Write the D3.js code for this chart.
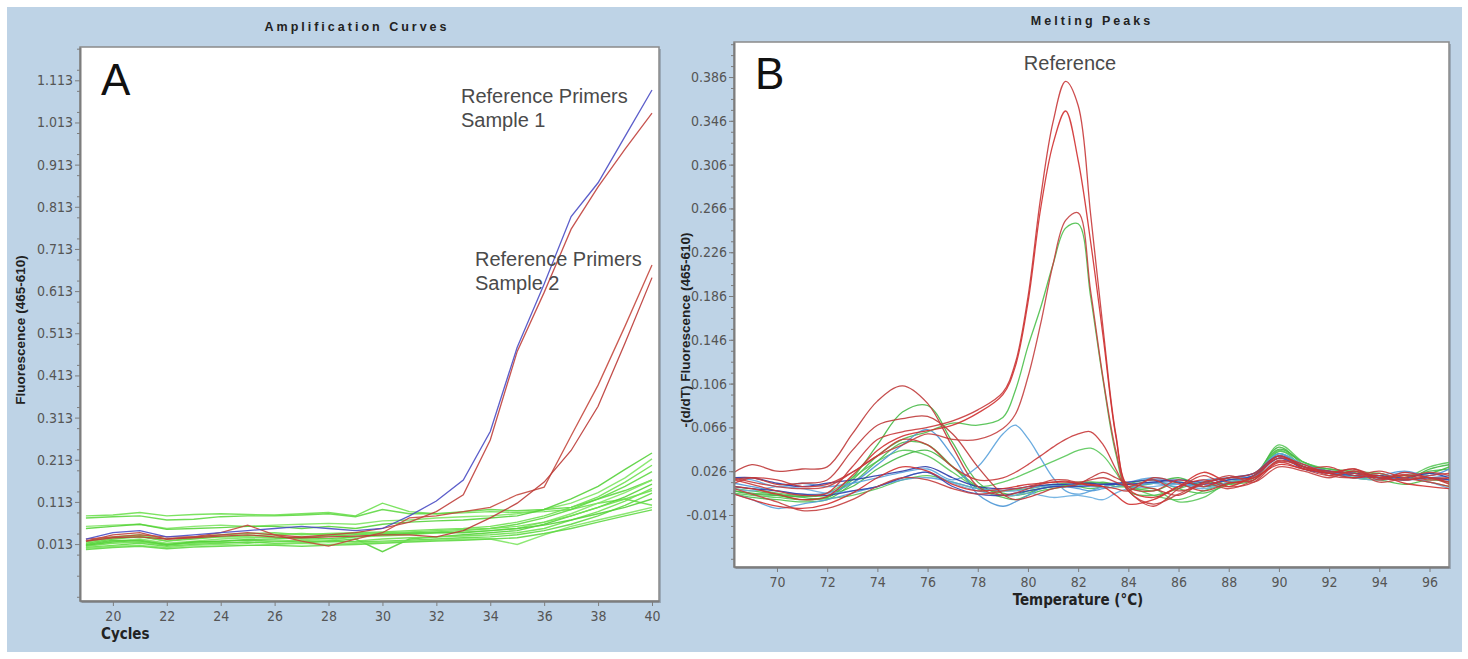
<!DOCTYPE html>
<html>
<head>
<meta charset="utf-8">
<title>Amplification Curves / Melting Peaks</title>
<style>
body { margin: 0; background: #fff; }
.tick text { font-family: "Liberation Sans Narrow", "DejaVu Sans Condensed", sans-serif; font-size: 14px; fill: #555; }
.tick line, .domain { stroke: #7d7d7d; }
.title { font-family: "Liberation Sans", Arial, sans-serif; font-weight: bold; font-size: 12.5px; letter-spacing: 3px; fill: #222; }
.axlabel { font-family: "Liberation Sans Narrow", "DejaVu Sans Condensed", sans-serif; font-weight: bold; font-size: 15px; fill: #222; }
.ylabel { font-family: "Liberation Sans", Arial, sans-serif; font-weight: bold; font-size: 13.5px; fill: #222; }
.note { font-family: "Liberation Sans", Arial, sans-serif; font-size: 20px; fill: #4a4a4a; }
.letter { font-family: "Liberation Sans", Arial, sans-serif; font-size: 44px; fill: #111; }
</style>
</head>
<body>
<script src="https://cdn.jsdelivr.net/npm/d3@7"></script>
<script>
// ---- amplification data (fluorescence per cycle) ----
var cycles = d3.range(19, 41);
var ampXTicks = [20, 22, 24, 26, 28, 30, 32, 34, 36, 38, 40];
var ampYTicks = [0.013, 0.113, 0.213, 0.313, 0.413, 0.513, 0.613, 0.713, 0.813, 0.913, 1.013, 1.113];

var ampBlue = [0.025, 0.04, 0.045, 0.03, 0.035, 0.04, 0.045, 0.05, 0.055, 0.05, 0.045, 0.05, 0.08, 0.115, 0.165, 0.28, 0.48, 0.63, 0.79, 0.87, 0.98, 1.09];
var ampRed = [
  [0.02, 0.035, 0.04, 0.025, 0.03, 0.035, 0.04, 0.035, 0.03, 0.035, 0.04, 0.05, 0.065, 0.09, 0.13, 0.26, 0.47, 0.61, 0.76, 0.86, 0.95, 1.035],
  [0.025, 0.03, 0.035, 0.03, 0.03, 0.04, 0.058, 0.035, 0.02, 0.008, 0.025, 0.04, 0.075, 0.08, 0.09, 0.1, 0.13, 0.148, 0.27, 0.39, 0.53, 0.675],
  [0.02, 0.028, 0.03, 0.025, 0.028, 0.032, 0.035, 0.03, 0.028, 0.03, 0.032, 0.035, 0.035, 0.03, 0.045, 0.075, 0.11, 0.16, 0.235, 0.34, 0.49, 0.645]
];
var ampGreen = [
  [0.08, 0.082, 0.088, 0.08, 0.083, 0.085, 0.083, 0.082, 0.085, 0.088, 0.08, 0.11, 0.09, 0.085, 0.087, 0.09, 0.088, 0.09, 0.095, 0.11, 0.12, 0.105],
  [0.075, 0.078, 0.08, 0.07, 0.072, 0.078, 0.08, 0.08, 0.082, 0.085, 0.078, 0.095, 0.085, 0.085, 0.09, 0.095, 0.092, 0.095, 0.1, 0.12, 0.14, 0.165],
  [0.055, 0.058, 0.06, 0.05, 0.055, 0.058, 0.055, 0.058, 0.06, 0.062, 0.06, 0.068, 0.07, 0.075, 0.078, 0.08, 0.085, 0.095, 0.11, 0.135, 0.17, 0.215],
  [0.05, 0.055, 0.06, 0.048, 0.05, 0.052, 0.055, 0.055, 0.05, 0.055, 0.05, 0.06, 0.065, 0.068, 0.07, 0.075, 0.08, 0.095, 0.12, 0.15, 0.19, 0.229],
  [0.02, 0.03, 0.035, 0.025, 0.03, 0.035, 0.038, 0.04, 0.035, 0.038, 0.04, 0.042, 0.045, 0.048, 0.05, 0.055, 0.065, 0.08, 0.1, 0.125, 0.16, 0.2],
  [0.015, 0.025, 0.03, 0.02, 0.025, 0.03, 0.03, 0.028, 0.03, 0.032, 0.035, 0.038, 0.04, 0.042, 0.045, 0.05, 0.06, 0.075, 0.095, 0.12, 0.15, 0.185],
  [0.01, 0.02, 0.025, 0.015, 0.02, 0.025, 0.028, 0.03, 0.025, 0.022, 0.03, 0.032, 0.035, 0.04, 0.042, 0.045, 0.05, 0.065, 0.085, 0.11, 0.135, 0.165],
  [0.012, 0.022, 0.02, 0.01, 0.018, 0.02, 0.022, 0.02, 0.018, 0.02, 0.025, -0.005, 0.025, 0.03, 0.035, 0.04, 0.045, 0.06, 0.08, 0.1, 0.125, 0.155],
  [0.008, 0.015, 0.018, 0.012, 0.015, 0.018, 0.015, 0.02, 0.022, 0.018, 0.02, 0.025, 0.028, 0.03, 0.032, 0.035, 0.04, 0.05, 0.07, 0.09, 0.115, 0.145],
  [0.005, 0.01, 0.015, 0.008, 0.012, 0.015, 0.018, 0.015, 0.015, 0.02, 0.018, 0.02, 0.022, 0.025, 0.028, 0.03, 0.035, 0.045, 0.06, 0.08, 0.105, 0.134],
  [0.003, 0.008, 0.01, 0.005, 0.01, 0.012, 0.01, 0.012, 0.015, 0.012, 0.015, 0.018, 0.02, 0.022, 0.025, 0.025, 0.012, 0.035, 0.055, 0.07, 0.085, 0.1],
  [0.01, 0.018, 0.022, 0.012, 0.018, 0.02, 0.024, 0.025, 0.028, 0.026, 0.03, 0.035, 0.038, 0.04, 0.04, 0.045, 0.05, 0.058, 0.07, 0.085, 0.1, 0.12],
  [0.018, 0.028, 0.032, 0.02, 0.028, 0.03, 0.033, 0.035, 0.038, 0.035, 0.038, 0.04, 0.042, 0.045, 0.048, 0.05, 0.055, 0.065, 0.08, 0.1, 0.12, 0.14],
  [0.0, 0.005, 0.008, 0.002, 0.006, 0.008, 0.01, 0.01, 0.008, 0.01, 0.012, 0.015, 0.018, 0.02, 0.022, 0.025, 0.028, 0.038, 0.05, 0.065, 0.08, 0.094]
];

// ---- melting data (-dF/dT per temperature) ----
var temps = [68.3, 69, 70, 71, 72, 73, 74, 75, 76, 77, 78, 79,
             79.5, 80, 80.5, 81, 81.5, 82, 82.5, 83, 83.5, 84,
             85, 86, 87, 88, 89, 90, 91, 92, 93, 94, 95, 96, 96.8];
var meltXTicks = [70, 72, 74, 76, 78, 80, 82, 84, 86, 88, 90, 92, 94, 96];
var meltYTicks = [-0.014, 0.026, 0.066, 0.106, 0.146, 0.186, 0.226, 0.266, 0.306, 0.346, 0.386];

var meltRed = [
  [0.018, 0.014, 0.008, 0.004, 0.006, 0.03, 0.055, 0.062, 0.066, 0.072, 0.082, 0.098,
   0.125, 0.185, 0.275, 0.345, 0.382, 0.36, 0.26, 0.155, 0.06, 0.012,
   0.008, 0.018, 0.012, 0.02, 0.02, 0.04, 0.03, 0.026, 0.024, 0.02, 0.022, 0.018, 0.02],
  [0.012, 0.01, 0.005, 0.0, 0.003, 0.022, 0.045, 0.058, 0.063, 0.068, 0.079, 0.096,
   0.122, 0.18, 0.265, 0.325, 0.355, 0.31, 0.235, 0.148, 0.058, 0.01,
   0.002, 0.012, 0.018, 0.012, 0.022, 0.038, 0.032, 0.024, 0.028, 0.018, 0.025, 0.02, 0.016],
  [0.02, 0.016, 0.012, 0.01, 0.012, 0.025, 0.04, 0.05, 0.06, 0.055, 0.055, 0.065,
   0.078, 0.112, 0.16, 0.215, 0.255, 0.262, 0.19, 0.11, 0.045, 0.008,
   -0.004, 0.005, 0.015, 0.01, 0.018, 0.035, 0.03, 0.022, 0.02, 0.024, 0.018, 0.022, 0.024],
  [0.025, 0.032, 0.026, 0.028, 0.03, 0.06, 0.09, 0.104, 0.088, 0.048, 0.012, 0.004,
   0.006, 0.01, 0.014, 0.016, 0.017, 0.015, 0.013, 0.012, 0.01, 0.008,
   0.02, 0.015, 0.008, 0.015, 0.018, 0.036, 0.03, 0.025, 0.028, 0.02, 0.018, 0.02, 0.014],
  [0.015, 0.02, 0.018, 0.012, 0.014, 0.025, 0.04, 0.055, 0.05, 0.03, 0.018, 0.02,
   0.025, 0.032, 0.04, 0.048, 0.055, 0.06, 0.062, 0.05, 0.028, 0.008,
   -0.006, 0.01, 0.022, 0.012, 0.016, 0.034, 0.028, 0.03, 0.022, 0.026, 0.02, 0.016, 0.012],
  [0.005, 0.0, -0.006, -0.008, -0.004, 0.006, 0.02, 0.03, 0.026, 0.014, 0.008, 0.01,
   0.012, 0.014, 0.015, 0.016, 0.016, 0.015, 0.014, 0.012, 0.004, -0.004,
   0.0, 0.012, 0.025, 0.016, 0.02, 0.032, 0.028, 0.024, 0.02, 0.022, 0.015, 0.012, 0.01],
  [0.01, 0.005, -0.002, -0.01, -0.008, 0.0, 0.012, 0.02, 0.018, 0.01, 0.005, 0.008,
   0.01, 0.012, 0.015, 0.018, 0.018, 0.016, 0.018, 0.02, 0.016, 0.012,
   0.018, 0.008, 0.014, 0.022, 0.016, 0.03, 0.026, 0.02, 0.026, 0.016, 0.02, 0.025, 0.022],
  [0.018, 0.02, 0.014, 0.015, 0.018, 0.045, 0.068, 0.074, 0.076, 0.06, 0.03, 0.005,
   0.0, 0.002, 0.006, 0.01, 0.012, 0.014, 0.02, 0.025, 0.02, 0.015,
   0.01, 0.004, 0.016, 0.02, 0.024, 0.04, 0.028, 0.022, 0.026, 0.02, 0.023, 0.02, 0.02]
];
var meltGreen = [
  [0.01, 0.008, 0.005, 0.002, 0.002, 0.018, 0.04, 0.055, 0.062, 0.07, 0.068, 0.075,
   0.1, 0.14, 0.175, 0.215, 0.248, 0.252, 0.185, 0.108, 0.042, 0.008,
   0.004, 0.01, 0.016, 0.014, 0.018, 0.042, 0.03, 0.026, 0.022, 0.022, 0.02, 0.026, 0.028],
  [0.008, 0.006, 0.004, 0.0, 0.002, 0.02, 0.05, 0.08, 0.086, 0.052, 0.016, 0.004,
   0.004, 0.008, 0.01, 0.012, 0.012, 0.014, 0.015, 0.016, 0.014, 0.012,
   0.008, 0.016, 0.012, 0.018, 0.022, 0.046, 0.034, 0.026, 0.022, 0.024, 0.018, 0.028, 0.032],
  [0.012, 0.01, 0.006, 0.004, 0.006, 0.02, 0.035, 0.045, 0.04, 0.025, 0.012, 0.016,
   0.02, 0.025, 0.03, 0.035, 0.04, 0.045, 0.047, 0.04, 0.025, 0.01,
   0.01, -0.002, 0.002, 0.016, 0.02, 0.05, 0.034, 0.028, 0.026, 0.024, 0.02, 0.03, 0.034],
  [0.005, 0.002, 0.0, -0.002, 0.0, 0.015, 0.035, 0.052, 0.05, 0.03, 0.01, 0.002,
   0.0, 0.004, 0.008, 0.01, 0.012, 0.012, 0.01, 0.012, 0.014, 0.015,
   0.018, 0.01, 0.006, 0.014, 0.02, 0.044, 0.034, 0.025, 0.02, 0.018, 0.014, 0.018, 0.016],
  [0.008, 0.005, 0.004, 0.003, 0.004, 0.012, 0.028, 0.04, 0.045, 0.03, 0.012, 0.006,
   0.004, 0.006, 0.01, 0.012, 0.013, 0.014, 0.016, 0.015, 0.012, 0.012,
   0.015, 0.02, 0.012, 0.016, 0.022, 0.048, 0.032, 0.028, 0.025, 0.02, 0.022, 0.024, 0.03],
  [0.006, 0.004, 0.002, 0.0, 0.001, 0.004, 0.01, 0.018, 0.022, 0.016, 0.01, 0.008,
   0.009, 0.01, 0.012, 0.014, 0.015, 0.016, 0.016, 0.015, 0.014, 0.012,
   0.004, 0.0, 0.008, 0.015, 0.02, 0.045, 0.03, 0.024, 0.02, 0.018, 0.02, 0.016, 0.012]
];
var meltBlue = [
  [0.02, 0.018, 0.012, 0.015, 0.012, 0.015, 0.02, 0.025, 0.028, 0.018, 0.03, 0.06,
   0.068, 0.056, 0.038, 0.02, 0.008, 0.005, 0.008, 0.012, 0.015, 0.012,
   0.015, 0.012, 0.018, 0.02, 0.022, 0.04, 0.03, 0.025, 0.022, 0.02, 0.025, 0.02, 0.018],
  [0.015, 0.012, 0.008, 0.005, 0.006, 0.015, 0.032, 0.05, 0.064, 0.04, 0.005, -0.006,
   -0.002, 0.004, 0.01, 0.012, 0.012, 0.01, 0.008, 0.01, 0.012, 0.014,
   0.016, 0.014, 0.012, 0.018, 0.02, 0.042, 0.028, 0.024, 0.02, 0.022, 0.026, 0.022, 0.028],
  [0.01, 0.008, 0.012, 0.01, 0.006, 0.008, 0.012, 0.02, 0.025, 0.015, 0.008, 0.004,
   0.004, 0.006, 0.004, 0.002, 0.003, 0.004, 0.002, 0.0, 0.006, 0.01,
   0.012, 0.014, 0.01, 0.016, 0.02, 0.038, 0.03, 0.024, 0.02, 0.018, 0.02, 0.016, 0.01],
  [0.005, 0.0, -0.008, -0.004, 0.0, 0.006, 0.012, 0.018, 0.02, 0.016, 0.01, 0.008,
   0.008, 0.01, 0.012, 0.013, 0.014, 0.013, 0.012, 0.012, 0.014, 0.016,
   0.02, 0.016, 0.012, 0.02, 0.024, 0.042, 0.032, 0.026, 0.024, 0.02, 0.018, 0.02, 0.022]
];
var meltNavy = [
  [0.02, 0.02, 0.015, 0.012, 0.015, 0.018, 0.022, 0.026, 0.03, 0.02, 0.012, 0.01,
   0.01, 0.012, 0.013, 0.014, 0.014, 0.015, 0.015, 0.014, 0.014, 0.014,
   0.016, 0.018, 0.016, 0.02, 0.024, 0.04, 0.03, 0.026, 0.024, 0.022, 0.02, 0.024, 0.02],
  [0.012, 0.01, 0.008, 0.005, 0.004, 0.008, 0.012, 0.02, 0.025, 0.012, 0.005, 0.004,
   0.006, 0.008, 0.01, 0.012, 0.012, 0.012, 0.013, 0.014, 0.015, 0.016,
   0.018, 0.016, 0.014, 0.018, 0.022, 0.038, 0.028, 0.024, 0.022, 0.02, 0.018, 0.02, 0.018]
];

var W = 1468, H = 659;
var svg = d3.select("body").append("svg").attr("width", W).attr("height", H);

svg.append("rect").attr("x", 7).attr("y", 7).attr("width", 1455).attr("height", 645)
  .attr("fill", "#bed3e6");

function fmt(d) { return d.toFixed(3); }

function panel(o) {
  var g = svg.append("g");
  var x = d3.scaleLinear().domain(o.xDomain).range([o.x0, o.x1]);
  var y = d3.scaleLinear().domain(o.yDomain).range([o.y1, o.y0]);

  // white plot box with grey frame
  g.append("rect").attr("x", o.x0 + 2).attr("y", o.y0 + 2).attr("width", o.x1 - o.x0).attr("height", o.y1 - o.y0)
    .attr("fill", "#9aa9b8");
  g.append("rect").attr("x", o.x0).attr("y", o.y0).attr("width", o.x1 - o.x0).attr("height", o.y1 - o.y0)
    .attr("fill", "#fff").attr("stroke", "#8a8a8a").attr("stroke-width", 1.5);

  var clipId = "clip" + o.id;
  g.append("clipPath").attr("id", clipId).append("rect")
    .attr("x", o.x0).attr("y", o.y0).attr("width", o.x1 - o.x0).attr("height", o.y1 - o.y0);

  var line = d3.line().x(function(d) { return x(d[0]); }).y(function(d) { return y(d[1]); }).curve(o.curve);
  var lines = g.append("g").attr("clip-path", "url(#" + clipId + ")").attr("fill", "none");
  o.series.forEach(function(s) {
    lines.append("path")
      .attr("d", line(o.xs.map(function(v, i) { return [v, s.values[i]]; })))
      .attr("stroke", s.color).attr("stroke-width", s.width || 1.3).attr("stroke-opacity", s.opacity || 0.9);
  });

  // minor ticks
  g.append("g").attr("transform", "translate(" + o.x0 + ",0)")
    .call(d3.axisLeft(y).tickValues(o.yMinor).tickSize(3).tickFormat(""))
    .call(function(a) { a.select(".domain").remove(); });
  // axes
  g.append("g").attr("transform", "translate(" + o.x0 + ",0)")
    .call(d3.axisLeft(y).tickValues(o.yTicks).tickSize(5).tickSizeOuter(0).tickPadding(2).tickFormat(fmt));
  g.append("g").attr("transform", "translate(0," + o.y1 + ")")
    .call(d3.axisBottom(x).tickValues(o.xTicks).tickSize(5).tickSizeOuter(0).tickPadding(5));
  g.selectAll(".domain").attr("stroke-width", 2);

  return { g: g, x: x, y: y };
}

function seriesOf(arr, colors, width) {
  return arr.map(function(v, i) { return { values: v, color: colors[i % colors.length], width: width }; });
}

// ---- panel A ----
var ampSeries = seriesOf(ampGreen, ["#6ee050", "#5fd844", "#7fe664", "#55d23a"], 1.4)
  .concat(seriesOf(ampRed, ["#c0403c", "#c4483e", "#bb3a36"], 1.3))
  .concat([{ values: ampBlue, color: "#4a4cc4", width: 1.3 }]);

var ampYMinor = d3.range(-0.112, 1.19, 0.05);
var A = panel({
  id: "a", x0: 80, x1: 659, y0: 47, y1: 601,
  xDomain: [18.78, 40.26], yDomain: [-0.122, 1.192],
  xs: cycles, series: ampSeries, curve: d3.curveLinear,
  xTicks: ampXTicks, yTicks: ampYTicks, yMinor: ampYMinor
});

svg.append("text").attr("class", "title").attr("x", 357).attr("y", 31).attr("text-anchor", "middle").text("Amplification Curves");
svg.append("text").attr("class", "letter").attr("x", 101).attr("y", 95).text("A");
svg.append("text").attr("class", "note").attr("x", 461).attr("y", 103).text("Reference Primers");
svg.append("text").attr("class", "note").attr("x", 461).attr("y", 127).text("Sample 1");
svg.append("text").attr("class", "note").attr("x", 475).attr("y", 266).text("Reference Primers");
svg.append("text").attr("class", "note").attr("x", 475).attr("y", 290).text("Sample 2");
svg.append("text").attr("class", "axlabel").attr("x", 101).attr("y", 639).text("Cycles");
svg.append("text").attr("class", "ylabel").attr("transform", "translate(25,330) rotate(-90)")
  .attr("text-anchor", "middle").text("Fluorescence (465-610)");

// ---- panel B ----
var meltSeries = seriesOf(meltGreen, ["#4cc04c", "#45b845", "#5ac85a"], 1.3)
  .concat(seriesOf(meltBlue, ["#5aa2dc", "#4b96d6", "#6aaee0"], 1.3))
  .concat(seriesOf(meltNavy, ["#2c3ca8", "#3444b0"], 1.3))
  .concat(seriesOf(meltRed, ["#c8383a", "#d03030", "#c44040", "#bf3a3a"], 1.3));

var meltYMinor = d3.range(-0.054, 0.418, 0.01);
var B = panel({
  id: "b", x0: 734, x1: 1449, y0: 42, y1: 567,
  xDomain: [68.287, 96.777], yDomain: [-0.0615, 0.418],
  xs: temps, series: meltSeries, curve: d3.curveCatmullRom.alpha(0.5),
  xTicks: meltXTicks, yTicks: meltYTicks, yMinor: meltYMinor
});

svg.append("text").attr("class", "title").attr("x", 1092).attr("y", 25).attr("text-anchor", "middle").text("Melting Peaks");
svg.append("text").attr("class", "letter").attr("x", 755).attr("y", 89).text("B");
svg.append("text").attr("class", "note").attr("x", 1070).attr("y", 70).attr("text-anchor", "middle").text("Reference");
svg.append("text").attr("class", "axlabel").attr("x", 1078).attr("y", 605).attr("text-anchor", "middle").text("Temperature (°C)");
svg.append("text").attr("class", "ylabel").attr("transform", "translate(690,330) rotate(-90)")
  .attr("text-anchor", "middle").text("-(d/dT) Fluorescence (465-610)");
</script>
</body>
</html>
